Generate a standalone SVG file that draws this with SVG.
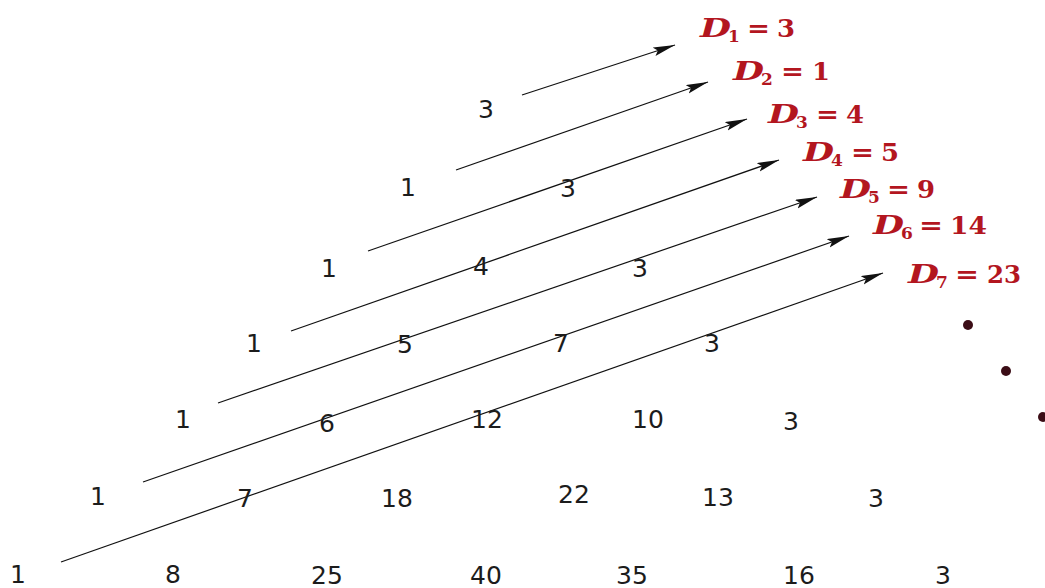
<svg xmlns="http://www.w3.org/2000/svg" width="1045" height="588" viewBox="0 0 1045 588">
<defs>
<style>
.n{font-family:"DejaVu Sans",sans-serif;font-size:25px;fill:#1c1c1c;text-anchor:middle}
.lab text{font-family:"DejaVu Serif","Liberation Serif",serif;font-weight:bold;fill:#b3161f}
.D{font-style:italic;font-size:26px}
.s{font-size:17px}
.v{font-size:25px}
.conn line{stroke:#111;stroke-width:1.2;fill:none}
.dot{fill:#3b0d16}
</style>
<marker id="ah" markerUnits="userSpaceOnUse" markerWidth="24" markerHeight="10" refX="22" refY="4.5" orient="auto">
<path d="M0,0 L22,4.5 L0,9 L4,4.5 z" fill="#111"/>
</marker>
</defs>
<rect width="1045" height="588" fill="#fff"/>
<g id="connectors" class="conn">
<line x1="522" y1="95" x2="675" y2="45" marker-end="url(#ah)"/>
<line x1="456" y1="170" x2="708" y2="82" marker-end="url(#ah)"/>
<line x1="368" y1="251" x2="747" y2="119" marker-end="url(#ah)"/>
<line x1="291" y1="331" x2="779" y2="160" marker-end="url(#ah)"/>
<line x1="218" y1="403" x2="817" y2="197" marker-end="url(#ah)"/>
<line x1="143" y1="482" x2="849" y2="236" marker-end="url(#ah)"/>
<line x1="61" y1="562" x2="883" y2="273" marker-end="url(#ah)"/>
</g>
<g id="numbers">
<g id="row1"><text class="n" x="486" y="118">3</text></g>
<g id="row2"><text class="n" x="408" y="196">1</text><text class="n" x="568" y="197">3</text></g>
<g id="row3"><text class="n" x="329" y="277">1</text><text class="n" x="481" y="275">4</text><text class="n" x="640" y="277">3</text></g>
<g id="row4"><text class="n" x="254" y="352">1</text><text class="n" x="405" y="353">5</text><text class="n" x="561" y="352">7</text><text class="n" x="712" y="352">3</text></g>
<g id="row5"><text class="n" x="183" y="428">1</text><text class="n" x="327" y="432">6</text><text class="n" x="487" y="428">12</text><text class="n" x="648" y="428">10</text><text class="n" x="791" y="430">3</text></g>
<g id="row6"><text class="n" x="98" y="505">1</text><text class="n" x="245" y="507">7</text><text class="n" x="397" y="507">18</text><text class="n" x="574" y="503">22</text><text class="n" x="718" y="506">13</text><text class="n" x="876" y="507">3</text></g>
<g id="row7"><text class="n" x="18" y="583">1</text><text class="n" x="173" y="583">8</text><text class="n" x="327" y="584">25</text><text class="n" x="486" y="584">40</text><text class="n" x="632" y="584">35</text><text class="n" x="799" y="584">16</text><text class="n" x="943" y="584">3</text></g>
</g>
<g id="D1" class="lab"><text class="D" x="700" y="37" textLength="31" lengthAdjust="spacingAndGlyphs">D</text><text class="s" x="728" y="42">1</text><text class="v" x="747" y="37" textLength="23" lengthAdjust="spacingAndGlyphs">=</text><text class="v" x="777" y="37" textLength="18" lengthAdjust="spacingAndGlyphs">3</text></g>
<g id="D2" class="lab"><text class="D" x="733" y="80" textLength="31" lengthAdjust="spacingAndGlyphs">D</text><text class="s" x="761" y="85">2</text><text class="v" x="781" y="80" textLength="23" lengthAdjust="spacingAndGlyphs">=</text><text class="v" x="812" y="80" textLength="18" lengthAdjust="spacingAndGlyphs">1</text></g>
<g id="D3" class="lab"><text class="D" x="768" y="123" textLength="31" lengthAdjust="spacingAndGlyphs">D</text><text class="s" x="796" y="128">3</text><text class="v" x="816" y="123" textLength="23" lengthAdjust="spacingAndGlyphs">=</text><text class="v" x="846" y="123" textLength="18" lengthAdjust="spacingAndGlyphs">4</text></g>
<g id="D4" class="lab"><text class="D" x="803" y="161" textLength="31" lengthAdjust="spacingAndGlyphs">D</text><text class="s" x="831" y="166">4</text><text class="v" x="851" y="161" textLength="23" lengthAdjust="spacingAndGlyphs">=</text><text class="v" x="881" y="161" textLength="18" lengthAdjust="spacingAndGlyphs">5</text></g>
<g id="D5" class="lab"><text class="D" x="840" y="198" textLength="31" lengthAdjust="spacingAndGlyphs">D</text><text class="s" x="868" y="203">5</text><text class="v" x="887" y="198" textLength="23" lengthAdjust="spacingAndGlyphs">=</text><text class="v" x="917" y="198" textLength="18" lengthAdjust="spacingAndGlyphs">9</text></g>
<g id="D6" class="lab"><text class="D" x="873" y="234" textLength="31" lengthAdjust="spacingAndGlyphs">D</text><text class="s" x="901" y="239">6</text><text class="v" x="919" y="234" textLength="24" lengthAdjust="spacingAndGlyphs">=</text><text class="v" x="950" y="234" textLength="37" lengthAdjust="spacingAndGlyphs">14</text></g>
<g id="D7" class="lab"><text class="D" x="908" y="283" textLength="31" lengthAdjust="spacingAndGlyphs">D</text><text class="s" x="936" y="288">7</text><text class="v" x="955" y="283" textLength="24" lengthAdjust="spacingAndGlyphs">=</text><text class="v" x="987" y="283" textLength="34" lengthAdjust="spacingAndGlyphs">23</text></g>
<g id="dots">
<circle class="dot" cx="968" cy="325" r="5"/>
<circle class="dot" cx="1006" cy="371" r="5"/>
<circle class="dot" cx="1043" cy="417" r="5"/>
</g>
</svg>
